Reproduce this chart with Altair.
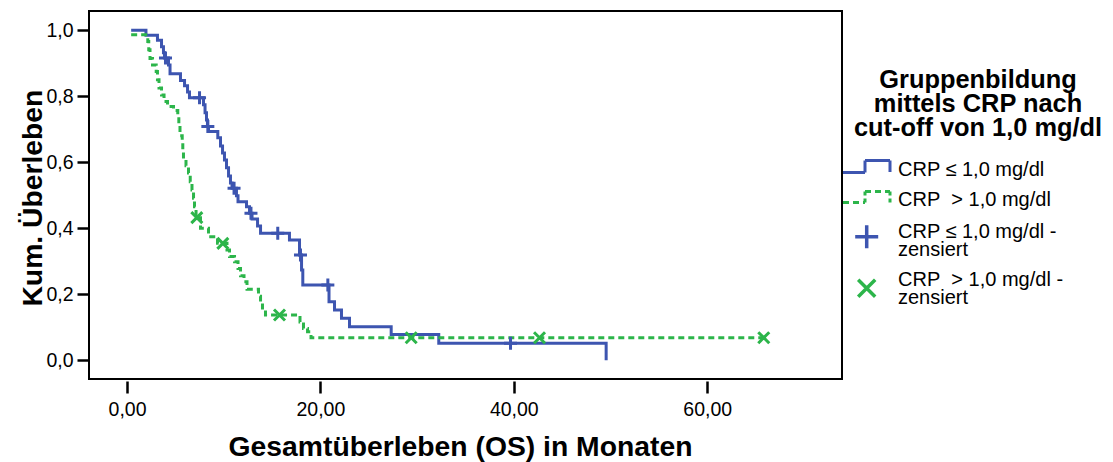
import altair as alt
import pandas as pd

# Kaplan-Meier step points (months, cumulative survival) per CRP group
blue_t = [0.43, 1.96, 3.15, 3.57, 3.77, 3.88, 4.29, 4.45, 5.53, 5.95, 6.26, 6.46,
          7.91, 8.07, 8.22, 8.32, 8.43, 9.39, 9.67, 9.88, 10.08, 10.29, 10.50, 10.70,
          10.86, 11.32, 11.48, 12.36, 12.67, 12.93, 13.50, 13.81, 16.80, 17.84, 18.05,
          18.18, 20.89, 21.46, 22.18, 23.01, 27.32, 32.24, 49.55]
blue_s = [1.0, 0.985, 0.970, 0.950, 0.932, 0.916, 0.895, 0.868, 0.848, 0.832, 0.813, 0.795,
          0.774, 0.750, 0.728, 0.708, 0.693, 0.674, 0.649, 0.628, 0.607, 0.583, 0.558, 0.537,
          0.521, 0.498, 0.480, 0.465, 0.445, 0.428, 0.407, 0.385, 0.364, 0.319, 0.273,
          0.228, 0.177, 0.152, 0.127, 0.101, 0.078, 0.051, 0.0]

green_t = [0.43, 2.15, 2.25, 2.38, 2.64, 3.02, 3.15, 3.31, 3.57, 3.83, 4.19, 4.81, 5.25,
           5.36, 5.48, 5.71, 5.77, 5.84, 6.10, 6.36, 6.54, 6.72, 6.88, 6.98, 7.14, 7.60,
           8.43, 9.36, 10.34, 10.60, 11.12, 11.48, 11.74, 12.10, 12.41, 13.60, 13.81,
           14.01, 14.32, 17.89, 18.25, 18.67, 19.03, 65.85]
green_s = [0.986, 0.966, 0.941, 0.914, 0.895, 0.875, 0.850, 0.825, 0.804, 0.784, 0.769,
           0.757, 0.737, 0.710, 0.680, 0.663, 0.637, 0.609, 0.589, 0.567, 0.541, 0.516,
           0.491, 0.465, 0.432, 0.400, 0.374, 0.354, 0.334, 0.314, 0.298, 0.278, 0.256,
           0.238, 0.215, 0.194, 0.173, 0.152, 0.137, 0.116, 0.096, 0.086, 0.068, 0.068]

# censored observations
blue_cens_t = [3.98, 7.50, 8.36, 11.07, 12.82, 15.59, 17.94, 20.77, 39.66]
blue_cens_s = [0.916, 0.795, 0.708, 0.521, 0.445, 0.385, 0.319, 0.228, 0.051]
green_cens_t = [7.22, 9.91, 15.77, 29.39, 42.66, 65.85]
green_cens_s = [0.432, 0.354, 0.137, 0.068, 0.068, 0.068]

x_ticks = [0, 20, 40, 60]
y_ticks = [0.0, 0.2, 0.4, 0.6, 0.8, 1.0]

BLUE = "#3d55b0"
GREEN = "#2cb54a"
FONT = "Liberation Sans"
PLUS = "M-1,0L1,0M0,-1L0,1"
CROSS = "M-1,-1L1,1M-1,1L1,-1"

W, H = 753, 368

blue_df = pd.DataFrame({"t": blue_t, "s": blue_s})
green_df = pd.DataFrame({"t": green_t, "s": green_s})
blue_c = pd.DataFrame({"t": blue_cens_t, "s": blue_cens_s})
green_c = pd.DataFrame({"t": green_cens_t, "s": green_cens_s})

x_enc = alt.X(
    "t:Q",
    scale=alt.Scale(domain=[-3.93, 73.94], nice=False, zero=False),
    axis=alt.Axis(
        values=x_ticks,
        labelExpr="replace(format(datum.value, '.2f'), '.', ',')",
        title="Gesamtüberleben (OS) in Monaten",
        titleX=371, titleY=74, titleAlign="center", titleBaseline="alphabetic",
        offset=2, tickSize=12, labelPadding=7,
    ),
)
y_enc = alt.Y(
    "s:Q",
    scale=alt.Scale(domain=[-0.0571, 1.0583], nice=False, zero=False),
    axis=alt.Axis(
        values=y_ticks,
        labelExpr="replace(format(datum.value, '.1f'), '.', ',')",
        title="Kum. Überleben",
        titleX=-48, titleY=186.6, titleAlign="center", titleBaseline="alphabetic",
        tickSize=12, labelPadding=4,
    ),
)

blue_line = alt.Chart(blue_df).mark_line(
    interpolate="step-after", color=BLUE, strokeWidth=3
).encode(x=x_enc, y=y_enc)
green_line = alt.Chart(green_df).mark_line(
    interpolate="step-after", color=GREEN, strokeWidth=3, strokeDash=[6, 4]
).encode(x=x_enc, y=y_enc)
blue_pts = alt.Chart(blue_c).mark_point(
    shape=PLUS, size=169, color=BLUE, strokeWidth=3, opacity=1
).encode(x=x_enc, y=y_enc)
green_pts = alt.Chart(green_c).mark_point(
    shape=CROSS, size=121, color=GREEN, strokeWidth=3, opacity=1
).encode(x=x_enc, y=y_enc)

one = pd.DataFrame({"k": [0]})


def hseg(x1, x2, y, color, dash=None):
    kw = {"color": color, "strokeWidth": 3}
    if dash:
        kw["strokeDash"] = dash
    return alt.Chart(one).mark_rule(**kw).encode(
        x=alt.value(x1), x2=alt.value(x2), y=alt.value(y))


def vseg(x, y1, y2, color, dash=None):
    kw = {"color": color, "strokeWidth": 3}
    if dash:
        kw["strokeDash"] = dash
    return alt.Chart(one).mark_rule(**kw).encode(
        x=alt.value(x), y=alt.value(y1), y2=alt.value(y2))


def label(txt, x, y, size=20, bold=False, align="left"):
    return alt.Chart(one).mark_text(
        text=txt, font=FONT, fontSize=size, fontWeight="bold" if bold else "normal",
        align=align, baseline="middle", color="black"
    ).encode(x=alt.value(x), y=alt.value(y))


legend_title = ["Gruppenbildung", "mittels CRP nach", "cut-off von 1,0 mg/dl"]
legend_labels = ["CRP ≤ 1,0 mg/dl", "CRP\u00a0 > 1,0 mg/dl"]
censor_labels = ["CRP ≤ 1,0 mg/dl -", "CRP\u00a0 > 1,0 mg/dl -", "zensiert"]

legend = [
    label(legend_title[0], 889, 68.5, 25.4, True, "center"),
    label(legend_title[1], 889, 92.5, 25.4, True, "center"),
    label(legend_title[2], 889, 117, 25.4, True, "center"),
    # step-shaped key for the solid blue curve
    hseg(754, 776, 161.5, BLUE), vseg(776, 161.5, 149.5, BLUE),
    hseg(776, 801, 149.5, BLUE), vseg(801, 149.5, 161, BLUE),
    label(legend_labels[0], 809, 159),
    # step-shaped key for the dashed green curve
    hseg(754, 776, 191.5, GREEN, [6, 4]), vseg(776, 191.5, 180.5, GREEN, [4, 3]),
    hseg(776, 801, 180.5, GREEN, [6, 4]), vseg(801, 180.5, 192, GREEN, [4, 3]),
    label(legend_labels[1], 809, 189),
    alt.Chart(one).mark_point(shape=PLUS, size=529, color=BLUE, strokeWidth=3.5, opacity=1)
    .encode(x=alt.value(777.7), y=alt.value(225.7)),
    label(censor_labels[0], 809, 220.7),
    label(censor_labels[2], 809, 239),
    alt.Chart(one).mark_point(shape=CROSS, size=289, color=GREEN, strokeWidth=3.5, opacity=1)
    .encode(x=alt.value(777.7), y=alt.value(277.3)),
    label(censor_labels[1], 809, 269),
    label(censor_labels[2], 809, 287.3),
]

chart = alt.layer(blue_line, green_line, blue_pts, green_pts, *legend).properties(
    width=W, height=H,
    padding={"left": 89, "top": 11, "right": 271, "bottom": 83},
    autosize=alt.AutoSizeParams(type="none"),
    background="white",
).configure_view(
    stroke="black", strokeWidth=2
).configure_axis(
    domain=False, grid=False,
    tickColor="black", tickWidth=2.5,
    labelFont=FONT, labelFontSize=19.5, labelColor="black",
    titleFont=FONT, titleFontSize=28.3, titleFontWeight="bold", titleColor="black",
)

chart.save("out.html", embed_options={"renderer": "svg", "actions": False})
